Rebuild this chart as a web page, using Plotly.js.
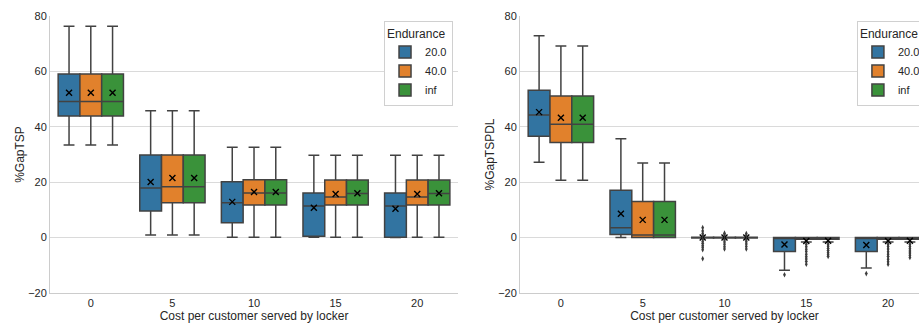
<!DOCTYPE html>
<html>
<head>
<meta charset="utf-8">
<script src="https://cdn.plot.ly/plotly-3.0.1.min.js"></script>
<style>
html,body{margin:0;padding:0;overflow:hidden;background:#fff;}
#chart{width:930px;height:324px;}
</style>
</head>
<body>
<div id="chart"></div>
<script>
// ---------- data ----------
const categories = ["0", "5", "10", "15", "20"];
const endurance = ["20.0", "40.0", "inf"];
const colors = ["#3274a1", "#e1812c", "#3a923a"];

// %GapTSP (rows: 20.0, 40.0, inf; columns: categories)
const tspLower  = [[33.4, 0.9, 0.1, 0.1, 0.0], [33.4, 0.9, 0.1, 0.1, 0.1], [33.4, 0.9, 0.1, 0.1, 0.1]];
const tspQ1     = [[43.9, 9.6, 5.4, 0.5, 0.1], [43.9, 12.6, 11.8, 11.8, 11.8], [43.9, 12.6, 11.8, 11.8, 11.8]];
const tspMedian = [[49.1, 17.9, 12.6, 11.4, 11.4], [49.1, 18.4, 16.1, 14.7, 14.7], [49.1, 18.4, 16.1, 15.9, 15.9]];
const tspQ3     = [[59.1, 29.8, 20.2, 16.1, 16.1], [59.1, 29.8, 20.9, 20.8, 20.8], [59.1, 29.8, 20.9, 20.8, 20.8]];
const tspUpper  = [[76.3, 45.8, 32.6, 29.7, 29.7], [76.3, 45.8, 32.6, 29.7, 29.7], [76.3, 45.8, 32.6, 29.7, 29.7]];
const tspMean   = [[52.3, 20.1, 12.9, 10.8, 10.4], [52.3, 21.5, 16.5, 15.7, 15.7], [52.3, 21.5, 16.5, 16.0, 16.0]];

// %GapTSPDL
const dlLower  = [[27.2, 0.0, -0.1, -11.8, -11.0], [20.7, 0.0, -0.1, -1.6, -1.6], [20.7, 0.0, -0.1, -1.6, -1.6]];
const dlQ1     = [[36.6, 1.1, -0.1, -5.0, -5.0], [34.3, 0.0, -0.1, -0.6, -0.6], [34.3, 0.0, -0.1, -0.6, -0.6]];
const dlMedian = [[44.3, 3.6, 0.0, 0.0, 0.0], [40.9, 0.9, 0.0, -0.1, -0.1], [40.9, 0.9, 0.0, -0.1, -0.1]];
const dlQ3     = [[53.2, 17.1, 0.1, 0.0, 0.0], [51.1, 13.0, 0.1, 0.0, 0.0], [51.1, 13.0, 0.1, 0.0, 0.0]];
const dlUpper  = [[72.9, 35.7, 0.1, 0.0, 0.0], [69.2, 26.9, 0.1, 0.0, 0.0], [69.2, 26.9, 0.1, 0.0, 0.0]];
const dlMean   = [[45.3, 8.6, 0.0, -2.5, -2.7], [43.3, 6.4, 0.0, -1.2, -1.2], [43.3, 6.4, 0.0, -1.1, -1.1]];

// outliers of %GapTSPDL, per series, per category
const dlOutliers20  = [[], [], [3.6, 2.4, 1.5, 0.8, -0.6, -1.4, -2.1, -2.9, -3.6, -4.4, -7.6], [-13.4], [-13.0]];
const dlOutliers40  = [[], [], [1.6, 0.9, -0.8, -1.6, -2.4, -3.3, -4.1], [-2.4, -3.3, -4.2, -5.0, -6.0, -6.9, -7.7, -8.6, -9.6], [-2.4, -3.2, -4.1, -5.1, -6.0, -6.8, -7.8, -8.7, -9.6]];
const dlOutliersInf = [[], [], [1.5, 0.8, -0.8, -1.5, -2.3, -3.2, -4.1], [-2.4, -3.1, -3.9, -4.7, -5.5, -6.2, -6.8], [-2.4, -3.2, -4.0, -4.8, -5.6, -6.4, -7.2]];
const dlOutliers = [dlOutliers20, dlOutliers40, dlOutliersInf];

// ---------- traces ----------
const FONT = "Liberation Sans, Arial, sans-serif";
const traces = [];

function addPanel(lower, q1, med, q3, upper, mean, outliers, xa, ya, legendName, ag) {
  endurance.forEach((name, i) => {
    traces.push({
      type: "box", name: name, x: categories,
      lowerfence: lower[i], q1: q1[i], median: med[i], q3: q3[i], upperfence: upper[i],
      xaxis: xa, yaxis: ya, legend: legendName,
      offsetgroup: name, alignmentgroup: ag,
      fillcolor: colors[i], line: {color: "#424242", width: 1.5},
      whiskerwidth: 0.5, boxpoints: false, hoverinfo: "skip",
      showlegend: true
    });
  });
  endurance.forEach((name, i) => {
    traces.push({
      type: "scatter", mode: "markers", name: name + " mean", x: categories, y: mean[i],
      xaxis: xa, yaxis: ya, offsetgroup: name, alignmentgroup: ag,
      marker: {symbol: "x-thin", size: 6, color: "#000", line: {color: "#000", width: 1.4}},
      showlegend: false, hoverinfo: "skip", cliponaxis: false
    });
    if (outliers) {
      const ox = [], oy = [];
      outliers[i].forEach((vals, c) => vals.forEach(v => { ox.push(categories[c]); oy.push(v); }));
      traces.push({
        type: "scatter", mode: "markers", name: name + " outliers", x: ox, y: oy,
        xaxis: xa, yaxis: ya, offsetgroup: name, alignmentgroup: ag,
        marker: {symbol: "diamond-tall", size: 4, color: "#3d3d3d"},
        showlegend: false, hoverinfo: "skip"
      });
    }
  });
}

addPanel(tspLower, tspQ1, tspMedian, tspQ3, tspUpper, tspMean, null, "x", "y", "legend", "g1");
addPanel(dlLower, dlQ1, dlMedian, dlQ3, dlUpper, dlMean, dlOutliers, "x2", "y2", "legend2", "g2");

// ---------- layout ----------
const xBase = {
  type: "category", range: [-0.5, 4.5], showgrid: false, zeroline: false,
  showline: true, linecolor: "#cccccc", linewidth: 1, ticks: "",
  tickfont: {family: FONT, size: 11, color: "#262626"},
  automargin: true,
  title: {text: "Cost per customer served by locker", font: {family: FONT, size: 12, color: "#262626"}, standoff: 0}
};
const yBase = {
  range: [-20, 80], dtick: 20, showgrid: true, gridcolor: "#dadada", gridwidth: 1,
  zeroline: false, showline: true, linecolor: "#cccccc", linewidth: 1, ticks: "",
  tickfont: {family: FONT, size: 11, color: "#262626"},
  automargin: true
};
const legendBase = {
  yanchor: "top", y: 0.982, bgcolor: "#ffffff", bordercolor: "#d0d0d0", borderwidth: 1,
  font: {family: FONT, size: 11, color: "#262626"},
  title: {text: "Endurance", font: {family: FONT, size: 12, color: "#262626"}},
  tracegroupgap: 0
};

const layout = {
  width: 930, height: 324,
  margin: {l: 50, r: 1, t: 16, b: 31},
  paper_bgcolor: "#ffffff", plot_bgcolor: "#ffffff",
  font: {family: FONT, color: "#262626"},
  boxmode: "group", boxgap: 0.2, boxgroupgap: 0,
  scattermode: "group", scattergap: 0.2,
  xaxis: Object.assign({}, xBase, {domain: [0, 0.4642], anchor: "y"}),
  yaxis: Object.assign({}, yBase, {anchor: "x", title: {text: "%GapTSP", standoff: 0, font: {family: FONT, size: 12, color: "#262626"}}}),
  xaxis2: Object.assign({}, xBase, {domain: [0.5347, 1], anchor: "y2"}),
  yaxis2: Object.assign({}, yBase, {anchor: "x2", title: {text: "%GapTSPDL", standoff: 0, font: {family: FONT, size: 12, color: "#262626"}}}),
  legend: Object.assign({}, legendBase, {x: 0.4585, xanchor: "right"}),
  legend2: Object.assign({}, legendBase, {x: 0.918, xanchor: "left"}),
  showlegend: true
};

Plotly.newPlot("chart", traces, layout, {displayModeBar: false, staticPlot: true});
</script>
</body>
</html>
